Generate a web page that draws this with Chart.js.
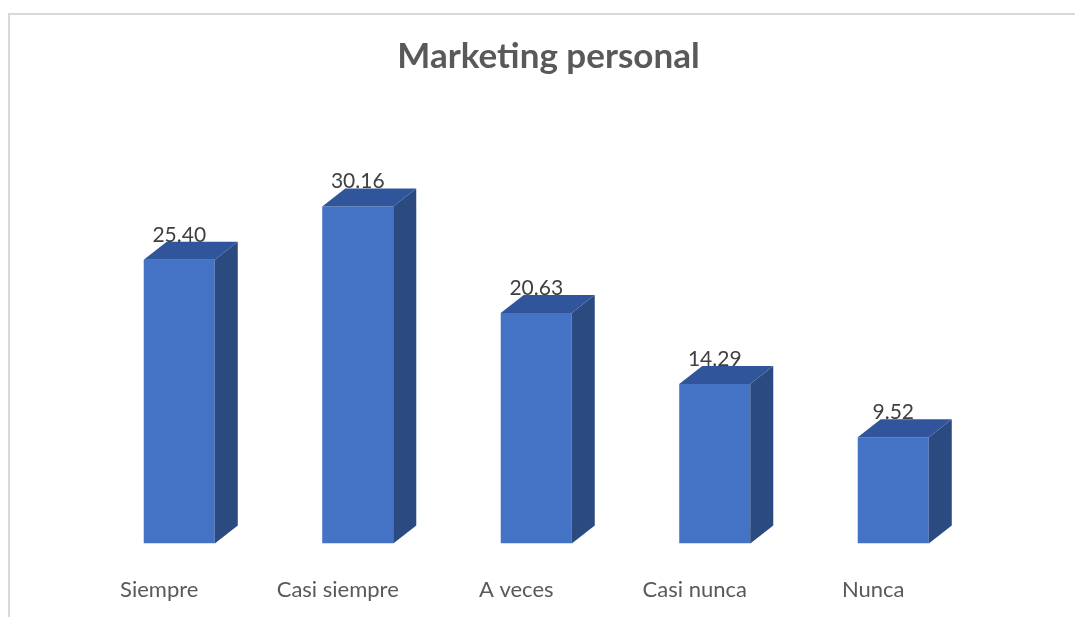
<!DOCTYPE html>
<html>
<head>
<meta charset="utf-8">
<script src="https://cdn.jsdelivr.net/npm/chart.js@4/dist/chart.umd.min.js"></script>
<style>
  html, body { margin: 0; padding: 0; overflow: hidden; background: #ffffff; width: 1075px; height: 617px; }
  #frame { position: absolute; left: 8px; top: 13px; width: 1081px; height: 660px; border: 2px solid #d9d9d9; box-sizing: border-box; background: #fff; }
  #c { display: block; }
</style>
</head>
<body>
<div id="frame"><canvas id="c" width="1077" height="640"></canvas></div>
<script>
const categories = ["Siempre", "Casi siempre", "A veces", "Casi nunca", "Nunca"];
const values = [25.40, 30.16, 20.63, 14.29, 9.52];
const chartTitle = "Marketing personal";
const yMin = 0;
const yMax = 35;

const DEPTH_X = 23;
const DEPTH_Y = 18;
const TOP_COLOR = "#30559a";
const SIDE_COLOR = "#2a4a80";
const LABEL_COLOR = "#404040";

const bar3d = {
  id: "bar3d",
  afterDatasetsDraw(chart) {
    const ctx = chart.ctx;
    const meta = chart.getDatasetMeta(0);
    const ds = chart.data.datasets[0];
    ctx.save();
    meta.data.forEach((bar, i) => {
      const p = bar.getProps(["x", "y", "base", "width"], true);
      const l = p.x - p.width / 2, r = p.x + p.width / 2;
      // side face
      ctx.fillStyle = SIDE_COLOR;
      ctx.beginPath();
      ctx.moveTo(r, p.y);
      ctx.lineTo(r + DEPTH_X, p.y - DEPTH_Y);
      ctx.lineTo(r + DEPTH_X, p.base - DEPTH_Y);
      ctx.lineTo(r, p.base);
      ctx.closePath();
      ctx.fill();
      // top face
      ctx.fillStyle = TOP_COLOR;
      ctx.beginPath();
      ctx.moveTo(l, p.y);
      ctx.lineTo(l + DEPTH_X, p.y - DEPTH_Y);
      ctx.lineTo(r + DEPTH_X, p.y - DEPTH_Y);
      ctx.lineTo(r, p.y);
      ctx.closePath();
      ctx.fill();
      // value label
      ctx.fillStyle = LABEL_COLOR;
      ctx.font = "21px Lato";
      ctx.textAlign = "center";
      ctx.textBaseline = "alphabetic";
      ctx.fillText(ds.data[i].toFixed(2), p.x, p.y - DEPTH_Y);
    });
    ctx.restore();
  }
};

new Chart(document.getElementById("c"), {
  type: "bar",
  data: {
    labels: categories,
    datasets: [{
      data: values,
      backgroundColor: "#4472c4",
      borderWidth: 0,
      barPercentage: 0.398,
      categoryPercentage: 1.0
    }]
  },
  options: {
    responsive: false,
    animation: false,
    layout: { padding: { left: 80, right: 80, top: 0, bottom: 19 } },
    plugins: {
      legend: { display: false },
      tooltip: { enabled: false },
      title: {
        display: true,
        text: chartTitle,
        color: "#595959",
        font: { family: "Lato", size: 35, weight: "bold" },
        padding: { top: 21, bottom: 74.4 }
      }
    },
    scales: {
      x: {
        grid: { display: false, drawTicks: false },
        border: { display: false },
        ticks: {
          color: "#595959",
          font: { family: "Lato", size: 22 },
          padding: 33,
          labelOffset: -20
        }
      },
      y: {
        position: "right",
        min: yMin,
        max: yMax,
        grid: { display: false, drawTicks: false },
        border: { display: false },
        ticks: { display: false },
        afterFit(scale) { scale.width = 24.5; }
      }
    }
  },
  plugins: [bar3d]
});
</script>
</body>
</html>
